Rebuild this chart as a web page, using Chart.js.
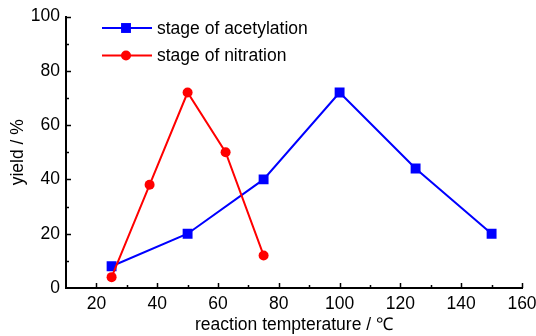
<!DOCTYPE html>
<html>
<head>
<meta charset="utf-8">
<script src="https://cdn.jsdelivr.net/npm/chart.js@4/dist/chart.umd.min.js"></script>
<style>
  html, body { margin: 0; padding: 0; background: #fff; }
  #wrap { width: 536px; height: 336px; }
</style>
</head>
<body>
<div id="wrap"><canvas id="chart" width="536" height="336"></canvas></div>
<script>
const tempAcetylation = [25, 50, 75, 100, 125, 150];
const yieldAcetylation = [8, 20, 40, 72, 44, 20];
const tempNitration = [25, 37.5, 50, 62.5, 75];
const yieldNitration = [4, 38, 72, 50, 12];
const seriesNames = ["stage of acetylation", "stage of nitration"];
const xTitle = "reaction tempterature / \u2103";
const yTitle = "yield / %";

const FONT = "'Liberation Sans Narrow', 'Liberation Sans', Arial, sans-serif";
const FSIZE = 17.5;

const toPoints = (xs, ys) => xs.map((x, i) => ({ x, y: ys[i] }));

// inward tick marks (major + minor) and the hand-drawn legend
const axisDecor = {
    id: "axisDecor",
    afterDraw(chart) {
        const { ctx, scales: { x, y } } = chart;
        ctx.save();
        ctx.strokeStyle = "#000";
        ctx.lineWidth = 1.5;
        const yBase = y.getPixelForValue(0);
        for (let v = 20; v <= 160; v += 10) {
            const px = Math.round(x.getPixelForValue(v)) + 0.5;
            const len = v % 20 === 0 ? 5 : 3;
            ctx.beginPath();
            ctx.moveTo(px, yBase);
            ctx.lineTo(px, yBase - len);
            ctx.stroke();
        }
        const xBase = x.getPixelForValue(10);
        for (let v = 10; v <= 100; v += 10) {
            const py = Math.round(y.getPixelForValue(v)) + 0.5;
            const len = v % 20 === 0 ? 5 : 3;
            ctx.beginPath();
            ctx.moveTo(xBase, py);
            ctx.lineTo(xBase + len, py);
            ctx.stroke();
        }

        // legend
        const rows = [
            { y: 28, color: "#0000ff", style: "rect", radius: 7 },
            { y: 55.5, color: "#ff0000", style: "circle", radius: 5 },
        ];
        rows.forEach((r, i) => {
            ctx.strokeStyle = r.color;
            ctx.lineWidth = 2;
            ctx.beginPath();
            ctx.moveTo(102, r.y);
            ctx.lineTo(152, r.y);
            ctx.stroke();
            ctx.fillStyle = r.color;
            Chart.helpers.drawPoint(ctx, { pointStyle: r.style, radius: r.radius, borderWidth: 0 }, 126, r.y);
            ctx.fillStyle = "#000";
            ctx.font = FSIZE + "px " + FONT;
            ctx.textBaseline = "middle";
            ctx.textAlign = "left";
            ctx.fillText(seriesNames[i], 157, r.y + 1);
        });
        ctx.restore();
    },
};

new Chart(document.getElementById("chart"), {
    type: "line",
    data: {
        datasets: [
            {
                label: seriesNames[0],
                data: toPoints(tempAcetylation, yieldAcetylation),
                borderColor: "#0000ff",
                backgroundColor: "#0000ff",
                borderWidth: 2,
                pointStyle: "rect",
                pointRadius: 7,
                pointBorderWidth: 0,
                order: 1,
            },
            {
                label: seriesNames[1],
                data: toPoints(tempNitration, yieldNitration),
                borderColor: "#ff0000",
                backgroundColor: "#ff0000",
                borderWidth: 2,
                pointStyle: "circle",
                pointRadius: 5,
                pointBorderWidth: 0,
                order: 0,
            },
        ],
    },
    options: {
        responsive: false,
        animation: false,
        layout: { padding: { top: 15, right: 14, left: 0, bottom: 0 } },
        plugins: { legend: { display: false }, tooltip: { enabled: false } },
        scales: {
            x: {
                type: "linear",
                min: 10,
                max: 160,
                grid: { display: false, drawTicks: false },
                border: { display: true, color: "#000", width: 2 },
                ticks: {
                    stepSize: 10,
                    autoSkip: false,
                    maxRotation: 0,
                    padding: 6,
                    color: "#000",
                    font: { family: FONT, size: FSIZE },
                    callback: (v) => (v % 20 === 0 && v > 10 ? v : ""),
                },
                title: {
                    display: true,
                    text: xTitle,
                    color: "#000",
                    font: { family: FONT, size: FSIZE },
                    padding: { top: 2, bottom: 0 },
                },
                afterFit: (s) => { s.height = 48; s.paddingRight = 0; s.paddingLeft = 0; },
            },
            y: {
                min: 0,
                max: 100,
                grid: { display: false, drawTicks: false },
                border: { display: true, color: "#000", width: 2 },
                ticks: {
                    stepSize: 20,
                    padding: 6,
                    color: "#000",
                    font: { family: FONT, size: FSIZE },
                },
                title: {
                    display: true,
                    text: yTitle,
                    color: "#000",
                    font: { family: FONT, size: FSIZE },
                    padding: { top: 8, bottom: 0 },
                },
                afterFit: (s) => { s.width = 66; },
            },
        },
    },
    plugins: [axisDecor],
});
</script>
</body>
</html>
